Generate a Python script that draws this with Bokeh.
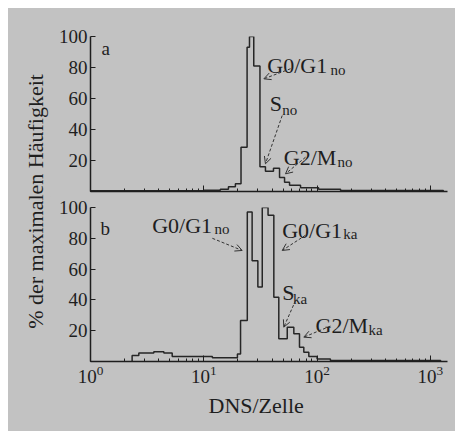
import math
from bokeh.plotting import figure
from bokeh.layouts import row, column
from bokeh.models import (FixedTicker, LogTicker, Label, Arrow, OpenHead, Title, Range1d)
from bokeh.embed import file_html
from bokeh.resources import INLINE

# ---------------- data ----------------
# panel a: bin edges (DNS/Zelle) and % of maximal frequency
edges_a = [1, 10, 14, 16.5, 19, 21.3, 24.1, 25.3, 27.6, 31.3, 35.0, 41.2, 46.6,
           51.6, 57.1, 71.4, 103, 161, 1300]
vals_a = [0.5, 0.8, 1.5, 3, 5, 28.5, 93, 100, 81, 16, 13, 15, 9, 6, 4, 2.5, 1.5, 0.7]

# panel b
edges_b = [2.33, 2.67, 3.62, 4.44, 5.26, 11.9, 19.8, 21.1, 24.2, 26.7, 30.0, 32.8,
           36.9, 41.5, 45.9, 54.5, 62.3, 69.9, 76.3, 84.5, 100, 131, 1230]
vals_b = [3.9, 5.6, 6.3, 5.6, 3.3, 2.4, 4.8, 26.6, 97, 65.5, 48.3, 100, 95, 41.8,
          14.7, 22.3, 18, 9.3, 6, 3.2, 1.7, 0.6]

y_ticks = [20, 40, 60, 80, 100]
x_label = "DNS/Zelle"
y_label = "% der maximalen Häufigkeit"

BG = "#c2c2c2"
INK = "#1e1e1e"
FONT = "Liberation Serif"
XR = (1, 1415)


def outline(edges, vals):
    xs = [edges[0]] + list(edges) + [edges[-1]]
    ys = [0] + list(vals) + [vals[-1], 0]
    return xs, ys


def make_panel(height, top, bottom, edges, vals, show_x_labels):
    p = figure(width=405, height=height, x_axis_type="log",
               x_range=Range1d(*XR), y_range=Range1d(0, 100),
               min_border_left=40, min_border_right=8,
               min_border_top=top, min_border_bottom=bottom,
               toolbar_location=None, output_backend="svg",
               background_fill_color=None, border_fill_color=BG,
               outline_line_color=None)
    p.xgrid.visible = False
    p.ygrid.visible = False
    xs, ys = outline(edges, vals)
    p.step(x=xs, y=ys, mode="after", line_color="#262626", line_width=1.5)

    p.yaxis.ticker = FixedTicker(ticks=y_ticks)
    p.xaxis.ticker = LogTicker(num_minor_ticks=10)
    for ax in (p.xaxis, p.yaxis):
        ax.axis_line_color = INK
        ax.axis_line_width = 1.5
        ax.major_tick_line_color = INK
        ax.minor_tick_line_color = INK
        ax.major_tick_out = 0
        ax.minor_tick_out = 0
        ax.major_label_text_font = FONT
        ax.major_label_text_color = INK
        ax.major_label_text_font_size = "19px"
    p.yaxis.major_tick_in = 5
    p.yaxis.minor_tick_line_color = None
    p.yaxis.major_label_standoff = 3
    p.xaxis.major_tick_in = 6
    p.xaxis.minor_tick_in = 3
    if show_x_labels:
        p.xaxis.major_label_standoff = 4
    else:
        p.xaxis.major_label_text_font_size = "1px"
        p.xaxis.major_label_text_alpha = 0
        p.xaxis.major_label_standoff = 0
    return p


def txt(p, x, y, s, size="22px"):
    p.add_layout(Label(x=x, y=y, text=s, text_font=FONT, text_font_size=size,
                       text_color=INK, text_baseline="alphabetic", text_align="left"))


def arrow(p, x0, y0, x1, y1):
    p.add_layout(Arrow(end=OpenHead(size=7, line_width=1, line_color="#333333"),
                       x_start=x0, y_start=y0, x_end=x1, y_end=y1,
                       line_color="#333333", line_width=1, line_dash="3 2"))


# ---------------- panel a ----------------
pa = make_panel(188, 28, 5, edges_a, vals_a, False)
txt(pa, 1.25, 92.3, "a", "19px")
txt(pa, 36.3, 81.3, "G0/G1")
txt(pa, 131, 78.5, "no", "15px")
txt(pa, 38.2, 56.6, "S")
txt(pa, 49.2, 52.3, "no", "15px")
txt(pa, 50.8, 22.1, "G2/M")
txt(pa, 151, 19.2, "no", "15px")
arrow(pa, 58.3, 79.2, 33.9, 72.7)
arrow(pa, 49.2, 49.0, 35.0, 17.9)
arrow(pa, 79.0, 22.1, 52.6, 11.4)

# ---------------- panel b ----------------
pb = make_panel(235, 11, 70, edges_b, vals_b, True)
txt(pb, 1.225, 86.4, "b", "19px")
txt(pb, 3.5, 88.0, "G0/G1")
txt(pb, 12.4, 86.0, "no", "15px")
txt(pb, 49.2, 85.1, "G0/G1")
txt(pb, 170, 83.1, "ka", "15px")
txt(pb, 49.2, 45.0, "S")
txt(pb, 61.3, 40.7, "ka", "15px")
txt(pb, 96.8, 23.4, "G2/M")
txt(pb, 284, 20.6, "ka", "15px")
arrow(pb, 11.9, 80.0, 21.8, 72.1)
arrow(pb, 79.0, 82.0, 49.2, 72.1)
arrow(pb, 64.5, 39.6, 50.8, 22.3)
arrow(pb, 131, 23.0, 76.3, 15.8)

pb.add_layout(Title(text=x_label, align="left", offset=118, text_font=FONT,
                    text_font_size="22px", text_font_style="normal",
                    text_color=INK), "below")

# ---------------- y label strip ----------------
pl = figure(width=42, height=423, x_range=Range1d(0, 42), y_range=Range1d(0, 423),
            x_axis_location=None, y_axis_location=None,
            min_border=0, toolbar_location=None, output_backend="svg",
            background_fill_color=None, border_fill_color=BG, outline_line_color=None)
pl.xgrid.visible = False
pl.ygrid.visible = False
pl.add_layout(Label(x=27, y=230, text=y_label, angle=math.pi / 2,
                    text_font=FONT, text_font_size="22px", text_color=INK,
                    text_align="center", text_baseline="middle"))

layout = row(pl, column(pa, pb, spacing=0), spacing=0,
             styles={"background-color": BG, "margin-left": "8px", "margin-top": "8px"})

open("out.html", "w").write(file_html(layout, INLINE))
